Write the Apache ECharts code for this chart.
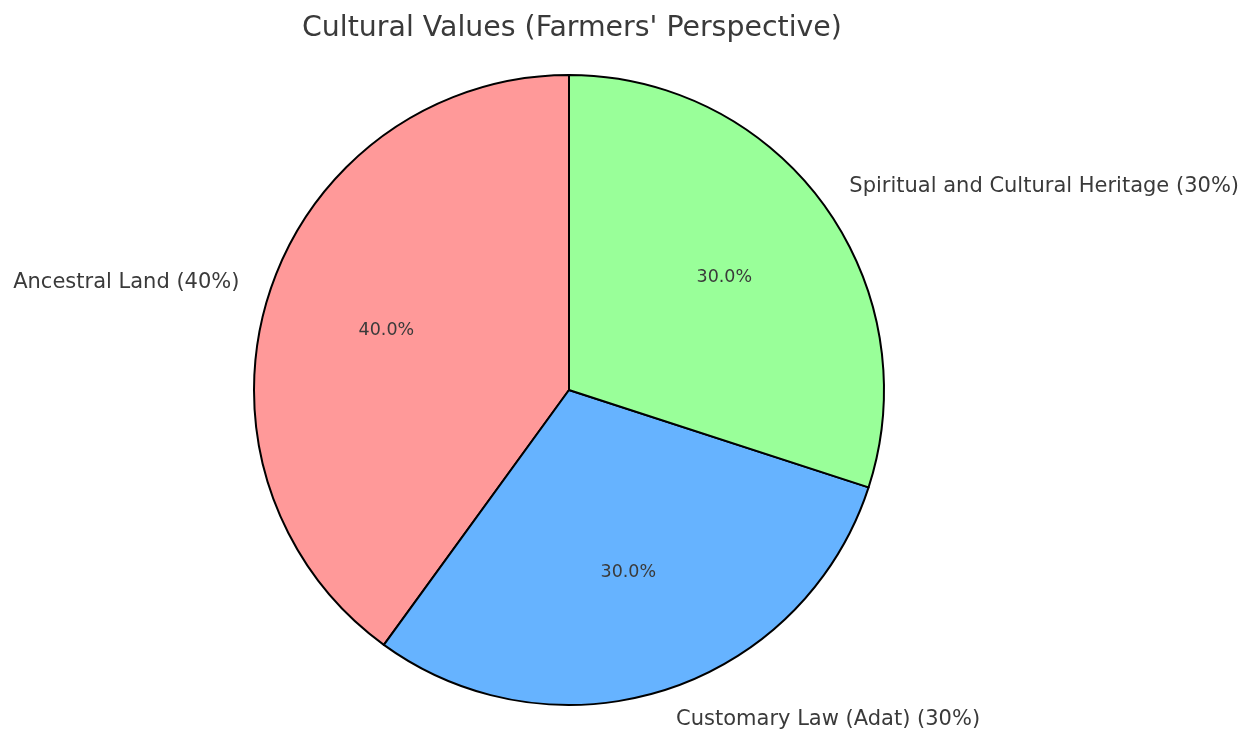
<!DOCTYPE html>
<html lang="en" style="height: 100%">
<head>
  <meta charset="utf-8">
</head>
<body style="height: 100%; margin: 0">
  <div id="container" style="width: 1257px; height: 731px"></div>
  <script type="text/javascript" src="https://fastly.jsdelivr.net/npm/echarts@6.0.0/dist/echarts.min.js"></script>
  <script type="text/javascript">
    // chart data
    var categories = ['Ancestral Land', 'Customary Law (Adat)', 'Spiritual and Cultural Heritage'];
    var values = [40, 30, 30];
    var colors = ['#ff9999', '#66b3ff', '#99ff99'];

    var R = 315;
    var CENTER = [569, 390];
    var FONT = 'DejaVu Sans';
    var TEXT = '#3a3a3a';

    var pieData = categories.map(function (name, i) {
      return { name: name, value: values[i], itemStyle: { color: colors[i] } };
    });

    var dom = document.getElementById('container');
    var myChart = echarts.init(dom, null, { renderer: 'canvas' });

    var option = {
      animation: false,
      title: {
        text: "Cultural Values (Farmers' Perspective)",
        left: 297,
        top: 10,
        textStyle: { fontFamily: FONT, fontSize: 28.4, fontWeight: 'normal', color: TEXT }
      },
      series: [
        {
          // the wedges with outer name labels
          type: 'pie',
          center: CENTER,
          radius: R,
          startAngle: 90,
          clockwise: false,
          avoidLabelOverlap: false,
          silent: true,
          data: pieData,
          itemStyle: { borderColor: '#000', borderWidth: 2 },
          label: {
            show: true,
            position: 'outside',
            distanceToLabelLine: 0,
            padding: [4, 0, 0, 0],
            fontFamily: FONT,
            fontSize: 21,
            color: TEXT,
            formatter: function (p) { return p.name + ' (' + p.value + '%)'; }
          },
          labelLine: { show: false, length: R * 0.1, length2: 0 }
        },
        {
          // invisible copy, only used to place the percent labels at 0.6 R
          type: 'pie',
          center: CENTER,
          radius: R * 1.2,
          startAngle: 90,
          clockwise: false,
          avoidLabelOverlap: false,
          silent: true,
          z: 3,
          data: values.map(function (v, i) { return { name: categories[i], value: v }; }),
          itemStyle: { color: 'rgba(0,0,0,0)', borderWidth: 0 },
          label: {
            show: true,
            position: 'inside',
            padding: [3, 0, 0, 0],
            fontFamily: FONT,
            fontSize: 17.5,
            color: TEXT,
            formatter: function (p) { return p.percent.toFixed(1) + '%'; }
          },
          labelLine: { show: false }
        }
      ]
    };

    myChart.setOption(option);
    window.addEventListener('resize', myChart.resize);
  </script>
</body>
</html>
